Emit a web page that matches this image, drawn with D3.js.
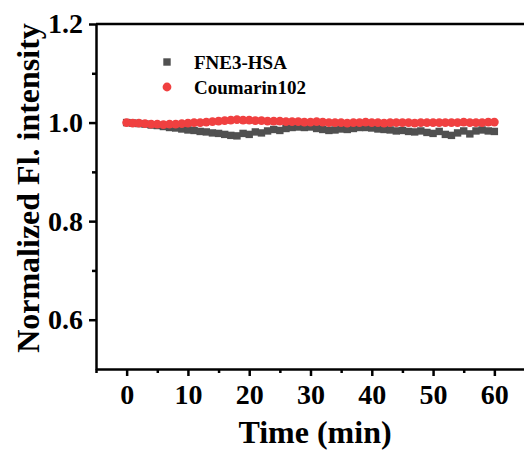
<!DOCTYPE html>
<html>
<head>
<meta charset="utf-8">
<script src="https://cdn.jsdelivr.net/npm/d3@7"></script>
<style>
  body { margin: 0; background: #fff; }
  text { font-family: "Liberation Serif", "Times New Roman", serif; font-weight: bold; }
</style>
</head>
<body>
<div id="chart"></div>
<script>
// data, one point per minute
const times = d3.range(0, 61);
const fne3Hsa = [
  1.000, 0.999, 0.998, 0.997, 0.995, 0.994, 0.992, 0.990, 0.989, 0.987,
  0.985, 0.984, 0.982, 0.981, 0.979, 0.978, 0.976, 0.974, 0.973, 0.978,
  0.976, 0.981, 0.979, 0.983, 0.986, 0.984, 0.988, 0.990, 0.991, 0.990,
  0.991, 0.988, 0.986, 0.984, 0.985, 0.987, 0.986, 0.988, 0.990, 0.990,
  0.989, 0.987, 0.986, 0.985, 0.983, 0.984, 0.982, 0.981, 0.983, 0.980,
  0.978, 0.982, 0.976, 0.974, 0.979, 0.983, 0.977, 0.983, 0.985, 0.983,
  0.982
];
const coumarin102 = [
  1.000, 0.999, 0.999, 0.998, 0.997, 0.997, 0.996, 0.997, 0.997, 0.998,
  0.999, 1.000, 1.000, 1.001, 1.002, 1.003, 1.004, 1.005, 1.006, 1.005,
  1.005, 1.004, 1.004, 1.003, 1.003, 1.003, 1.002, 1.002, 1.002, 1.001,
  1.001, 1.002, 1.001, 1.000, 1.000, 1.000, 0.999, 1.000, 1.000, 1.001,
  1.000, 1.000, 0.999, 1.000, 1.000, 1.000, 1.000, 0.999, 1.000, 1.000,
  1.000, 1.000, 1.000, 1.000, 1.000, 1.001, 1.000, 1.000, 1.000, 1.001,
  1.001
];
const xTicks = [0, 10, 20, 30, 40, 50, 60];
const xMinor = [-5, 5, 15, 25, 35, 45, 55];
const yTicks = [0.6, 0.8, 1.0, 1.2];
const yMinor = [0.7, 0.9, 1.1];
const seriesNames = ["FNE3-HSA", "Coumarin102"];
const seriesColors = ["#505050", "#f04040"];

const width = 524, height = 450;
const margin = {top: 24, right: -1, bottom: 81, left: 96};

const svg = d3.select("#chart")
  .append("svg")
  .attr("width", width)
  .attr("height", height);

const x = d3.scaleLinear()
  .domain([-5, 65])
  .range([margin.left, width - margin.right]);
const y = d3.scaleLinear()
  .domain([0.5, 1.2])
  .range([height - margin.bottom, margin.top]);

// top frame line
svg.append("line")
  .attr("x1", margin.left).attr("x2", width)
  .attr("y1", y(1.2)).attr("y2", y(1.2))
  .attr("stroke", "#000").attr("stroke-width", 2.5);

// x axis
svg.append("g")
  .attr("transform", "translate(0," + y(0.5) + ")")
  .call(d3.axisBottom(x).tickValues(xTicks).tickFormat(d3.format("d"))
    .tickSizeOuter(0).tickSizeInner(7).tickPadding(8));
svg.append("g")
  .attr("transform", "translate(0," + y(0.5) + ")")
  .call(d3.axisBottom(x).tickValues(xMinor).tickFormat("").tickSizeOuter(0).tickSizeInner(4))
  .select(".domain").remove();

// y axis
svg.append("g")
  .attr("transform", "translate(" + x(-5) + ",0)")
  .call(d3.axisLeft(y).tickValues(yTicks).tickFormat(d3.format(".1f"))
    .tickSizeOuter(0).tickSizeInner(7).tickPadding(6));
svg.append("g")
  .attr("transform", "translate(" + x(-5) + ",0)")
  .call(d3.axisLeft(y).tickValues(yMinor).tickFormat("").tickSizeOuter(0).tickSizeInner(4))
  .select(".domain").remove();

svg.selectAll(".domain, .tick line")
  .attr("stroke", "#000").attr("stroke-width", 2.5);
svg.selectAll(".tick text")
  .attr("fill", "#000").style("font-size", "28px");

// series
svg.append("g")
  .selectAll("rect")
  .data(times)
  .enter().append("rect")
  .attr("x", d => x(d) - 3.7)
  .attr("y", (d, i) => y(fne3Hsa[i]) - 3.7)
  .attr("width", 7.4).attr("height", 7.4)
  .attr("fill", seriesColors[0]);

svg.append("g")
  .selectAll("circle")
  .data(times)
  .enter().append("circle")
  .attr("cx", d => x(d))
  .attr("cy", (d, i) => y(coumarin102[i]))
  .attr("r", 4.4)
  .attr("fill", seriesColors[1]);

// legend
const legend = svg.append("g");
legend.append("rect")
  .attr("x", 163.3).attr("y", 58.3).attr("width", 7.4).attr("height", 7.4)
  .attr("fill", seriesColors[0]);
legend.append("circle")
  .attr("cx", 167).attr("cy", 87).attr("r", 4.4)
  .attr("fill", seriesColors[1]);
legend.selectAll("text")
  .data(seriesNames)
  .enter().append("text")
  .attr("x", 194)
  .attr("y", (d, i) => 69 + i * 25)
  .style("font-size", "19px")
  .text(d => d);

// axis titles
svg.append("text")
  .attr("x", 315)
  .attr("y", 443)
  .attr("text-anchor", "middle")
  .style("font-size", "32px")
  .text("Time (min)");

svg.append("text")
  .attr("transform", "translate(39,188) rotate(-90)")
  .attr("text-anchor", "middle")
  .style("font-size", "32px")
  .text("Normalized Fl. intensity");
</script>
</body>
</html>
